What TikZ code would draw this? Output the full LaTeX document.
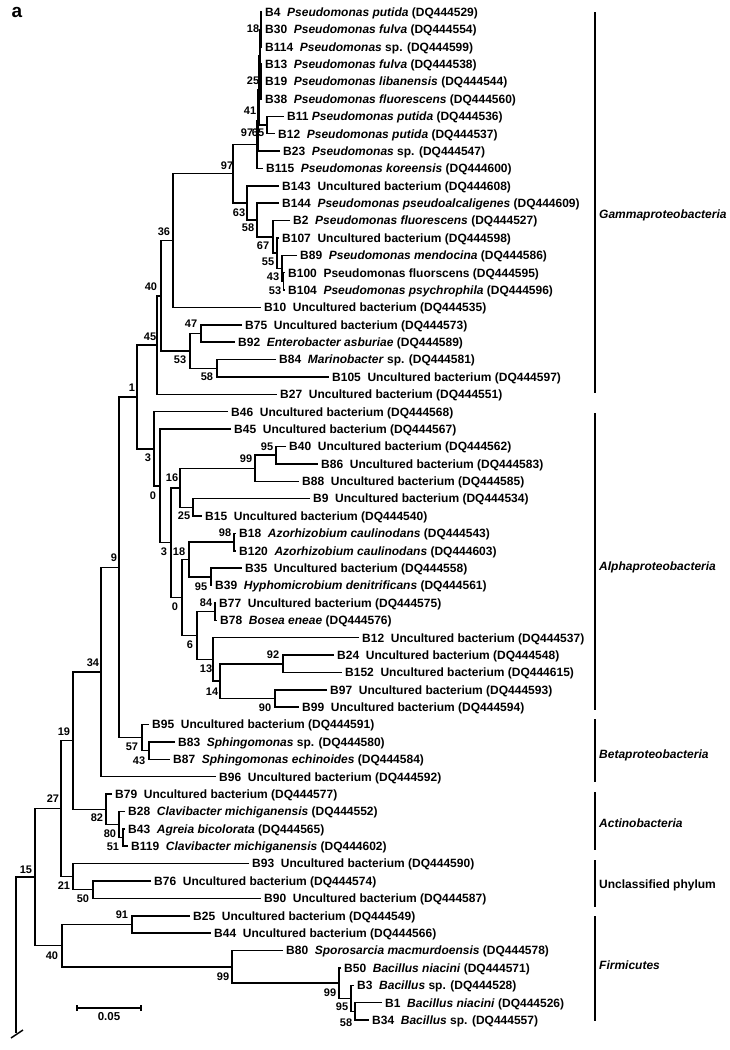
\documentclass[tikz,border=0pt]{standalone}
\usepackage{fontspec}
\setmainfont{Liberation Sans}
\usepackage{tikz}
\usetikzlibrary{calc}
\newcommand{\phjoin}[4]{\path let \p1=(#3), \p2=(#4) in (#2pt,{0.5*\y1+0.5*\y2}) coordinate (#1);}
\tikzset{
  phleaf/.style={anchor=west, inner xsep=3pt, inner ysep=0pt, text height=8.6pt, text depth=0pt, font=\bfseries\fontsize{12}{14}\selectfont},
  phboot/.style={inner sep=0pt, font=\bfseries\fontsize{11}{13}\selectfont},
  phgroup/.style={anchor=west, inner sep=0pt, font=\bfseries\fontsize{12}{14}\selectfont},
  phbranch/.style={line width=1.5pt},
  phbar/.style={line width=1.9pt}
}
\begin{document}
\begin{tikzpicture}[x=1pt, y=-1pt]
  \useasboundingbox (0,0) rectangle (730,1050);
  \node[font=\bfseries\fontsize{19}{21}\selectfont, inner sep=0pt] (panel) at (17,12) {a};

  \node[phleaf] (B4) at (262,12.0) {B4~~\textit{Pseudomonas putida} (DQ444529)};
  \node[phleaf] (B30) at (262,29.4) {B30~~\textit{Pseudomonas fulva} (DQ444554)};
  \node[phleaf] (B114) at (262,46.8) {B114~~\textit{Pseudomonas} sp. (DQ444599)};
  \node[phleaf] (B13) at (262,64.1) {B13~~\textit{Pseudomonas fulva} (DQ444538)};
  \node[phleaf] (B19) at (262,81.5) {B19~~\textit{Pseudomonas libanensis} (DQ444544)};
  \node[phleaf] (B38) at (262,98.9) {B38~~\textit{Pseudomonas fluorescens} (DQ444560)};
  \node[phleaf] (B11) at (284,116.3) {B11 \textit{Pseudomonas putida} (DQ444536)};
  \node[phleaf] (B12a) at (275,133.7) {B12~~\textit{Pseudomonas putida} (DQ444537)};
  \node[phleaf] (B23) at (280,151.0) {B23~~\textit{Pseudomonas} sp. (DQ444547)};
  \node[phleaf] (B115) at (263,168.4) {B115~~\textit{Pseudomonas koreensis} (DQ444600)};
  \node[phleaf] (B143) at (279,185.8) {B143~~Uncultured bacterium (DQ444608)};
  \node[phleaf] (B144) at (279,203.2) {B144~~\textit{Pseudomonas pseudoalcaligenes} (DQ444609)};
  \node[phleaf] (B2) at (290,220.6) {B2~~\textit{Pseudomonas fluorescens} (DQ444527)};
  \node[phleaf] (B107) at (279,237.9) {B107~~Uncultured bacterium (DQ444598)};
  \node[phleaf] (B89) at (297,255.3) {B89~~\textit{Pseudomonas mendocina} (DQ444586)};
  \node[phleaf] (B100) at (285,272.7) {B100~~Pseudomonas fluorscens (DQ444595)};
  \node[phleaf] (B104) at (285,290.1) {B104~~\textit{Pseudomonas psychrophila} (DQ444596)};
  \node[phleaf] (B10) at (261,307.5) {B10~~Uncultured bacterium (DQ444535)};
  \node[phleaf] (B75) at (242,324.8) {B75~~Uncultured bacterium (DQ444573)};
  \node[phleaf] (B92) at (235,342.2) {B92~~\textit{Enterobacter asburiae} (DQ444589)};
  \node[phleaf] (B84) at (276,359.6) {B84~~\textit{Marinobacter} sp. (DQ444581)};
  \node[phleaf] (B105) at (329,377.0) {B105~~Uncultured bacterium (DQ444597)};
  \node[phleaf] (B27) at (277,394.4) {B27~~Uncultured bacterium (DQ444551)};
  \node[phleaf] (B46) at (228,411.7) {B46~~Uncultured bacterium (DQ444568)};
  \node[phleaf] (B45) at (231,429.1) {B45~~Uncultured bacterium (DQ444567)};
  \node[phleaf] (B40) at (286,446.5) {B40~~Uncultured bacterium (DQ444562)};
  \node[phleaf] (B86) at (318,463.9) {B86~~Uncultured bacterium (DQ444583)};
  \node[phleaf] (B88) at (299,481.3) {B88~~Uncultured bacterium (DQ444585)};
  \node[phleaf] (B9) at (310,498.6) {B9~~Uncultured bacterium (DQ444534)};
  \node[phleaf] (B15) at (202,516.0) {B15~~Uncultured bacterium (DQ444540)};
  \node[phleaf] (B18) at (236,533.4) {B18~~\textit{Azorhizobium caulinodans} (DQ444543)};
  \node[phleaf] (B120) at (236,550.8) {B120~~\textit{Azorhizobium caulinodans} (DQ444603)};
  \node[phleaf] (B35) at (242,568.2) {B35~~Uncultured bacterium (DQ444558)};
  \node[phleaf] (B39) at (212,585.5) {B39~~\textit{Hyphomicrobium denitrificans} (DQ444561)};
  \node[phleaf] (B77) at (216,602.9) {B77~~Uncultured bacterium (DQ444575)};
  \node[phleaf] (B78) at (217,620.3) {B78~~\textit{Bosea eneae} (DQ444576)};
  \node[phleaf] (B12b) at (359,637.7) {B12~~Uncultured bacterium (DQ444537)};
  \node[phleaf] (B24) at (334,655.1) {B24~~Uncultured bacterium (DQ444548)};
  \node[phleaf] (B152) at (342,672.4) {B152~~Uncultured bacterium (DQ444615)};
  \node[phleaf] (B97) at (327,689.8) {B97~~Uncultured bacterium (DQ444593)};
  \node[phleaf] (B99) at (299,707.2) {B99~~Uncultured bacterium (DQ444594)};
  \node[phleaf] (B95) at (149,724.6) {B95~~Uncultured bacterium (DQ444591)};
  \node[phleaf] (B83) at (175,742.0) {B83~~\textit{Sphingomonas} sp. (DQ444580)};
  \node[phleaf] (B87) at (170,759.3) {B87~~\textit{Sphingomonas echinoides} (DQ444584)};
  \node[phleaf] (B96) at (216,776.7) {B96~~Uncultured bacterium (DQ444592)};
  \node[phleaf] (B79) at (112,794.1) {B79~~Uncultured bacterium (DQ444577)};
  \node[phleaf] (B28) at (125,811.5) {B28~~\textit{Clavibacter michiganensis} (DQ444552)};
  \node[phleaf] (B43) at (125,828.9) {B43~~\textit{Agreia bicolorata} (DQ444565)};
  \node[phleaf] (B119) at (128,846.2) {B119~~\textit{Clavibacter michiganensis} (DQ444602)};
  \node[phleaf] (B93) at (249,863.6) {B93~~Uncultured bacterium (DQ444590)};
  \node[phleaf] (B76) at (151,881.0) {B76~~Uncultured bacterium (DQ444574)};
  \node[phleaf] (B90) at (261,898.4) {B90~~Uncultured bacterium (DQ444587)};
  \node[phleaf] (B25) at (190,915.8) {B25~~Uncultured bacterium (DQ444549)};
  \node[phleaf] (B44) at (211,933.1) {B44~~Uncultured bacterium (DQ444566)};
  \node[phleaf] (B80) at (283,950.5) {B80~~\textit{Sporosarcia macmurdoensis} (DQ444578)};
  \node[phleaf] (B50) at (341,967.9) {B50~~\textit{Bacillus niacini} (DQ444571)};
  \node[phleaf] (B3) at (354,985.3) {B3~~\textit{Bacillus} sp. (DQ444528)};
  \node[phleaf] (B1) at (382,1002.7) {B1~~\textit{Bacillus niacini} (DQ444526)};
  \node[phleaf] (B34) at (369,1020.0) {B34~~\textit{Bacillus} sp. (DQ444557)};

  \phjoin{n18}{261}{B4}{B114}
  \phjoin{n25}{261}{B13}{B38}
  \phjoin{nTop}{260}{n18}{n25}
  \phjoin{n65}{267}{B11}{B12a}
  \phjoin{n41}{259}{nTop}{n65}
  \phjoin{n97a}{258}{n41}{B23}
  \phjoin{nPs}{257}{n97a}{B115}
  \phjoin{n53a}{283.5}{B100}{B104}
  \phjoin{n43a}{282}{B89}{n53a}
  \phjoin{n55}{277}{B107}{n43a}
  \phjoin{n67}{273}{B2}{n55}
  \phjoin{n58a}{257}{B144}{n67}
  \phjoin{n63}{247}{B143}{n58a}
  \phjoin{n97b}{233}{nPs}{n63}
  \phjoin{n36}{173}{n97b}{B10}
  \phjoin{n47}{201}{B75}{B92}
  \phjoin{n58b}{217}{B84}{B105}
  \phjoin{n53b}{190}{n47}{n58b}
  \phjoin{n40a}{161}{n36}{n53b}
  \phjoin{n45}{157}{n40a}{B27}
  \phjoin{n95a}{276}{B40}{B86}
  \phjoin{n99a}{255}{n95a}{B88}
  \phjoin{n25b}{193}{B9}{B15}
  \phjoin{n16}{180}{n99a}{n25b}
  \phjoin{n98}{234}{B18}{B120}
  \phjoin{n95b}{211}{B35}{B39}
  \phjoin{n18b}{189}{n98}{n95b}
  \phjoin{n84}{215}{B77}{B78}
  \phjoin{n92}{283}{B24}{B152}
  \phjoin{n90}{275}{B97}{B99}
  \phjoin{n14}{220}{n92}{n90}
  \phjoin{n13}{213}{B12b}{n14}
  \phjoin{n6}{197}{n84}{n13}
  \phjoin{n0b}{182}{n18b}{n6}
  \phjoin{n3b}{171}{n16}{n0b}
  \phjoin{n0a}{160}{B45}{n3b}
  \phjoin{n3a}{154}{B46}{n0a}
  \phjoin{n1}{137}{n45}{n3a}
  \phjoin{n43b}{149}{B83}{B87}
  \phjoin{n57}{142}{B95}{n43b}
  \phjoin{n9}{119}{n1}{n57}
  \phjoin{n34}{101}{n9}{B96}
  \phjoin{n51}{123}{B43}{B119}
  \phjoin{n80}{119}{B28}{n51}
  \phjoin{n82}{106}{B79}{n80}
  \phjoin{n19}{73}{n34}{n82}
  \phjoin{n50}{93}{B76}{B90}
  \phjoin{n21}{73}{B93}{n50}
  \phjoin{n27}{61}{n19}{n21}
  \phjoin{n58c}{355}{B1}{B34}
  \phjoin{n95c}{351}{B3}{n58c}
  \phjoin{n99c}{339}{B50}{n95c}
  \phjoin{n99b}{232}{B80}{n99c}
  \phjoin{n91}{132}{B25}{B44}
  \phjoin{n40b}{62}{n91}{n99b}
  \phjoin{n15}{35}{n27}{n40b}
  \coordinate (rtend) at (16,1033);

  \draw[phbranch] (B4) -| (n18) |- (B114);
  \draw[phbranch] (n18) |- (B30);
  \draw[phbranch] (B13) -| (n25) |- (B38);
  \draw[phbranch] (n25) |- (B19);
  \draw[phbranch] (n18) -| (nTop) |- (n25);
  \draw[phbranch] (B11) -| (n65) |- (B12a);
  \draw[phbranch] (nTop) -| (n41) |- (n65);
  \draw[phbranch] (n41) -| (n97a) |- (B23);
  \draw[phbranch] (n97a) -| (nPs) |- (B115);
  \draw[phbranch] (B100) -| (n53a) |- (B104);
  \draw[phbranch] (B89) -| (n43a) |- (n53a);
  \draw[phbranch] (B107) -| (n55) |- (n43a);
  \draw[phbranch] (B2) -| (n67) |- (n55);
  \draw[phbranch] (B144) -| (n58a) |- (n67);
  \draw[phbranch] (B143) -| (n63) |- (n58a);
  \draw[phbranch] (nPs) -| (n97b) |- (n63);
  \draw[phbranch] (n97b) -| (n36) |- (B10);
  \draw[phbranch] (B75) -| (n47) |- (B92);
  \draw[phbranch] (B84) -| (n58b) |- (B105);
  \draw[phbranch] (n47) -| (n53b) |- (n58b);
  \draw[phbranch] (n36) -| (n40a) |- (n53b);
  \draw[phbranch] (n40a) -| (n45) |- (B27);
  \draw[phbranch] (B40) -| (n95a) |- (B86);
  \draw[phbranch] (n95a) -| (n99a) |- (B88);
  \draw[phbranch] (B9) -| (n25b) |- (B15);
  \draw[phbranch] (n99a) -| (n16) |- (n25b);
  \draw[phbranch] (B18) -| (n98) |- (B120);
  \draw[phbranch] (B35) -| (n95b) |- (B39);
  \draw[phbranch] (n98) -| (n18b) |- (n95b);
  \draw[phbranch] (B77) -| (n84) |- (B78);
  \draw[phbranch] (B24) -| (n92) |- (B152);
  \draw[phbranch] (B97) -| (n90) |- (B99);
  \draw[phbranch] (n92) -| (n14) |- (n90);
  \draw[phbranch] (B12b) -| (n13) |- (n14);
  \draw[phbranch] (n84) -| (n6) |- (n13);
  \draw[phbranch] (n18b) -| (n0b) |- (n6);
  \draw[phbranch] (n16) -| (n3b) |- (n0b);
  \draw[phbranch] (B45) -| (n0a) |- (n3b);
  \draw[phbranch] (B46) -| (n3a) |- (n0a);
  \draw[phbranch] (n45) -| (n1) |- (n3a);
  \draw[phbranch] (B83) -| (n43b) |- (B87);
  \draw[phbranch] (B95) -| (n57) |- (n43b);
  \draw[phbranch] (n1) -| (n9) |- (n57);
  \draw[phbranch] (n9) -| (n34) |- (B96);
  \draw[phbranch] (B43) -| (n51) |- (B119);
  \draw[phbranch] (B28) -| (n80) |- (n51);
  \draw[phbranch] (B79) -| (n82) |- (n80);
  \draw[phbranch] (n34) -| (n19) |- (n82);
  \draw[phbranch] (B76) -| (n50) |- (B90);
  \draw[phbranch] (B93) -| (n21) |- (n50);
  \draw[phbranch] (n19) -| (n27) |- (n21);
  \draw[phbranch] (B1) -| (n58c) |- (B34);
  \draw[phbranch] (B3) -| (n95c) |- (n58c);
  \draw[phbranch] (B50) -| (n99c) |- (n95c);
  \draw[phbranch] (B80) -| (n99b) |- (n99c);
  \draw[phbranch] (B25) -| (n91) |- (B44);
  \draw[phbranch] (n91) -| (n40b) |- (n99b);
  \draw[phbranch] (n27) -| (n15) |- (n40b);
  \draw[phbranch] (rtend) |- (n15);
  \draw[phbranch] (11,1038) -- (23,1030);

  \node[phboot] (bs18a) at (253,29) {18};
  \node[phboot] (bs25a) at (253,81) {25};
  \node[phboot] (bs41) at (250,111) {41};
  \node[phboot] (bs97a) at (247,133) {97};
  \node[phboot] (bs65) at (258,133) {65};
  \node[phboot] (bs97b) at (227,166) {97};
  \node[phboot] (bs36) at (164,232) {36};
  \node[phboot] (bs63) at (239,213) {63};
  \node[phboot] (bs58a) at (248,228) {58};
  \node[phboot] (bs67) at (263,246) {67};
  \node[phboot] (bs55) at (268,262) {55};
  \node[phboot] (bs43a) at (273,277) {43};
  \node[phboot] (bs53a) at (275,291) {53};
  \node[phboot] (bs40a) at (151,287) {40};
  \node[phboot] (bs47) at (191,324) {47};
  \node[phboot] (bs45) at (150,337) {45};
  \node[phboot] (bs53b) at (180,360) {53};
  \node[phboot] (bs58b) at (207,377) {58};
  \node[phboot] (bs1) at (132,388) {1};
  \node[phboot] (bs3a) at (148,458) {3};
  \node[phboot] (bs0a) at (153,496) {0};
  \node[phboot] (bs95a) at (267,447) {95};
  \node[phboot] (bs99a) at (246,459) {99};
  \node[phboot] (bs16) at (172,478) {16};
  \node[phboot] (bs25b) at (184,516) {25};
  \node[phboot] (bs98) at (225,533) {98};
  \node[phboot] (bs3b) at (164,552) {3};
  \node[phboot] (bs18b) at (179,552) {18};
  \node[phboot] (bs95b) at (201,587) {95};
  \node[phboot] (bs0b) at (175,607) {0};
  \node[phboot] (bs84) at (206,603) {84};
  \node[phboot] (bs6) at (190,645) {6};
  \node[phboot] (bs13) at (206,669) {13};
  \node[phboot] (bs92) at (273,655) {92};
  \node[phboot] (bs14) at (212,692) {14};
  \node[phboot] (bs90) at (265,708) {90};
  \node[phboot] (bs9) at (114,558) {9};
  \node[phboot] (bs34) at (93,663) {34};
  \node[phboot] (bs57) at (132,747) {57};
  \node[phboot] (bs43b) at (139,761) {43};
  \node[phboot] (bs19) at (64,732) {19};
  \node[phboot] (bs82) at (97,818) {82};
  \node[phboot] (bs80) at (110,834) {80};
  \node[phboot] (bs51) at (113,847) {51};
  \node[phboot] (bs27) at (53,799) {27};
  \node[phboot] (bs21) at (64,886) {21};
  \node[phboot] (bs50) at (83,899) {50};
  \node[phboot] (bs15) at (26,870) {15};
  \node[phboot] (bs91) at (122,915) {91};
  \node[phboot] (bs40b) at (52,956) {40};
  \node[phboot] (bs99b) at (223,977) {99};
  \node[phboot] (bs99c) at (330,993) {99};
  \node[phboot] (bs95c) at (342,1007) {95};
  \node[phboot] (bs58c) at (346,1023) {58};

  \draw[phbar] (595,12) -- (595,393);
  \draw[phbar] (595,413) -- (595,710);
  \draw[phbar] (595,719) -- (595,782);
  \draw[phbar] (595,792) -- (595,850);
  \draw[phbar] (595,860) -- (595,907);
  \draw[phbar] (595,916) -- (595,1021);
  \node[phgroup] (gamma) at (599,215) {\textit{Gammaproteobacteria}};
  \node[phgroup] (alpha) at (599,567) {\textit{Alphaproteobacteria}};
  \node[phgroup] (beta) at (599,755) {\textit{Betaproteobacteria}};
  \node[phgroup] (actino) at (599,823) {\textit{Actinobacteria}};
  \node[phgroup] (unclass) at (599,885) {Unclassified phylum};
  \node[phgroup] (firmi) at (599,965) {\textit{Firmicutes}};

  \coordinate (barl) at (77,1008);
  \coordinate (barr) at (141,1008);
  \draw[line width=1.3pt] (barl) -- (barr);
  \draw[line width=1.3pt] ([yshift=-3pt]barl) -- ([yshift=3pt]barl);
  \draw[line width=1.3pt] ([yshift=-3pt]barr) -- ([yshift=3pt]barr);
  \node[phboot, font=\bfseries\fontsize{11.5}{13}\selectfont] (scale) at (109,1017) {0.05};
\end{tikzpicture}
\end{document}
